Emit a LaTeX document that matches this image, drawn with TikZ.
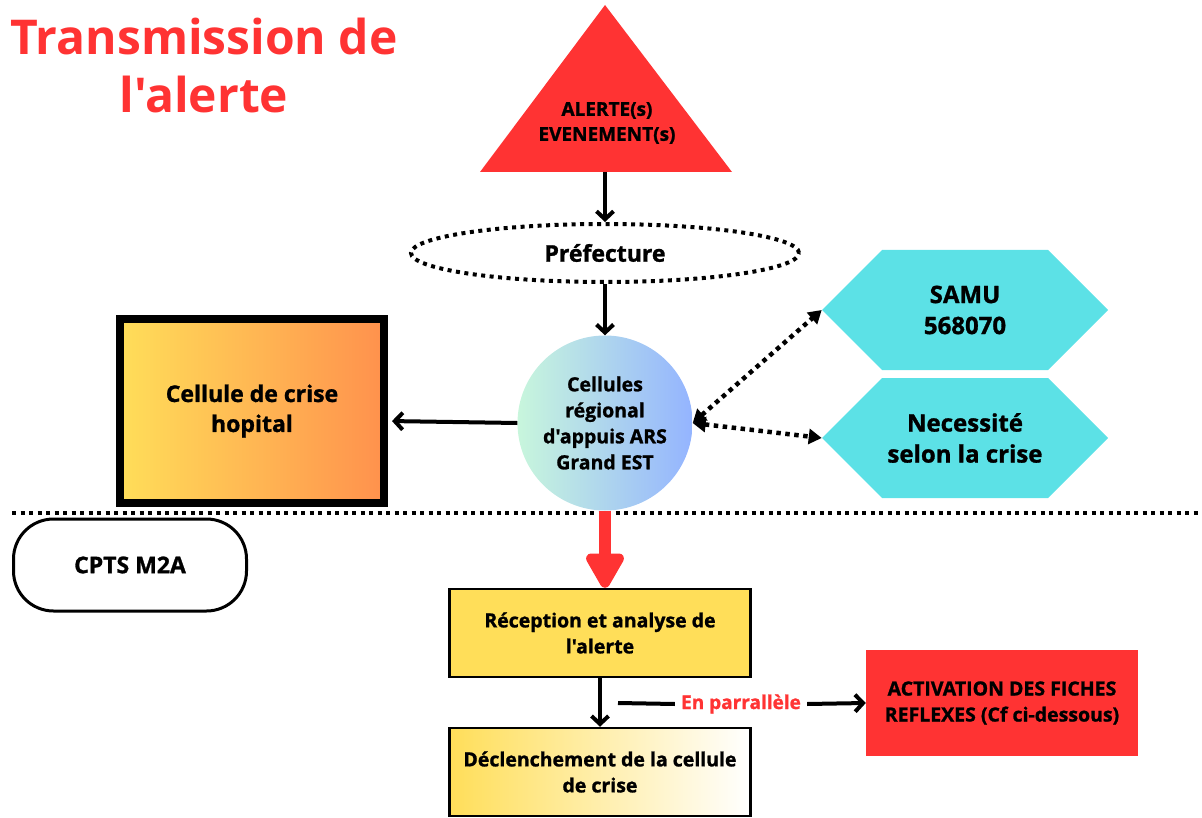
\documentclass[tikz,border=0pt]{standalone}
\usepackage{fontspec}
\setmainfont{Open Sans}[Ligatures=TeXOff]
\newfontfamily\heavy{Open Sans}[Ligatures=TeXOff, BoldFeatures={FakeBold=1.2}]
\usetikzlibrary{arrows.meta,shapes.geometric,shapes.symbols}
\definecolor{rd}{HTML}{FF3333}
\definecolor{cyanhex}{HTML}{5CE1E6}
\definecolor{yel}{HTML}{FFDE59}
\definecolor{ora}{HTML}{FF914D}
\definecolor{mint}{RGB}{200,246,220}
\definecolor{blu}{RGB}{148,180,255}
\definecolor{peach}{RGB}{246,224,212}
\tikzset{
  txt/.style={align=center, font=\fontsize{19.5}{26}\selectfont\heavy\bfseries},
  bigtxt/.style={align=center, font=\fontsize{24}{31}\selectfont\heavy\bfseries},
  arr/.style={-{Straight Barb[length=8pt,width=17pt]}, line width=4pt},
  dotline/.style={line width=4pt, dash pattern=on 4pt off 4.5pt},
  dotarr/.style={line width=4.5pt, dash pattern=on 4.5pt off 4.5pt, {Triangle[length=13pt,width=15pt]}-{Triangle[length=13pt,width=15pt]}},
  hexa/.style={shape=signal, signal to=west and east, signal pointer angle=90, fill=cyanhex, minimum width=286pt, minimum height=120pt, bigtxt},
}
\begin{document}
\begin{tikzpicture}[x=1pt,y=-1pt]
\useasboundingbox (0,0) rectangle (1202,818);
% title
\node[text=rd, align=center, font=\fontsize{48}{58}\selectfont\bfseries] (title) at (204,66) {Transmission de\\l'alerte};
% triangle
\fill[rd] (605,5) -- (732,172) -- (480,172) -- cycle;
\node[txt, font=\fontsize{19}{25}\selectfont\heavy\bfseries] (alerte) at (607,123) {ALERTE(s)\\EVENEMENT(s)};
\coordinate (alertebase) at (605,172);
% prefecture
\node[draw, ellipse, dotline, minimum width=388pt, minimum height=58pt, font=\fontsize{23}{26}\selectfont\heavy\bfseries] (pref) at (605,253) {Préfecture};
\draw[arr] (alertebase) -- (pref.north);
% ARS circle
\node[circle, minimum size=175pt, left color=mint, right color=blu, txt, inner sep=0pt] (ars) at (605,423) {Cellules\\régional\\d'appuis ARS\\Grand EST};
\draw[arr] (pref.south) -- (ars.north);
% hospital
\node[draw, line width=8pt, left color=yel, right color=ora, minimum width=264pt, minimum height=184pt, bigtxt, font=\fontsize{23}{30}\selectfont\heavy\bfseries] (hosp) at (252,411) {Cellule de crise\\hopital};
\draw[arr, shorten >=4pt] (ars.west) -- ([yshift=-10pt]hosp.east);
% hexagons
\node[hexa] (samu) at (965,310) {SAMU\\568070};
\node[hexa] (nec) at (965,438) {Necessité\\selon la crise};
\draw[dotarr] (ars.east) -- (samu.west);
\draw[dotarr] (ars.east) -- (nec.west);
% separator
\draw[dotline] (12,513) -- (1202,513);
% CPTS
\node[draw, line width=3pt, rounded corners=40pt, minimum width=233pt, minimum height=92pt, font=\fontsize{23}{26}\selectfont\heavy\bfseries] (cpts) at (130,565) {CPTS M2A};
% reception
\node[draw, line width=2.5pt, fill=yel, minimum width=301pt, minimum height=88pt, txt] (recep) at (600,633) {Réception et analyse de\\l'alerte};
\draw[rd, line width=12pt, -{Triangle[length=40pt,width=42pt,round]}] (ars.south) -- (ars.south |- recep.north);
% declenchement
\node[draw, line width=2.5pt, left color=yel, middle color=peach, right color=white, minimum width=301pt, minimum height=88pt, txt] (decl) at (600,772) {Déclenchement de la cellule\\de crise};
\draw[arr] (recep.south) -- (decl.north);
% activation
\node[fill=rd, minimum width=272pt, minimum height=106pt, txt] (act) at (1002,703) {ACTIVATION DES FICHES\\REFLEXES (Cf ci-dessous)};
\node[text=rd, font=\fontsize{19}{22}\selectfont\heavy\bfseries, inner sep=6pt] (par) at (741,704) {En parrallèle};
\coordinate (parstart) at (618,703);
\draw[line width=4pt] (parstart) -- (par.west);
\draw[arr] (par.east) -- (act.west);
\end{tikzpicture}
\end{document}
